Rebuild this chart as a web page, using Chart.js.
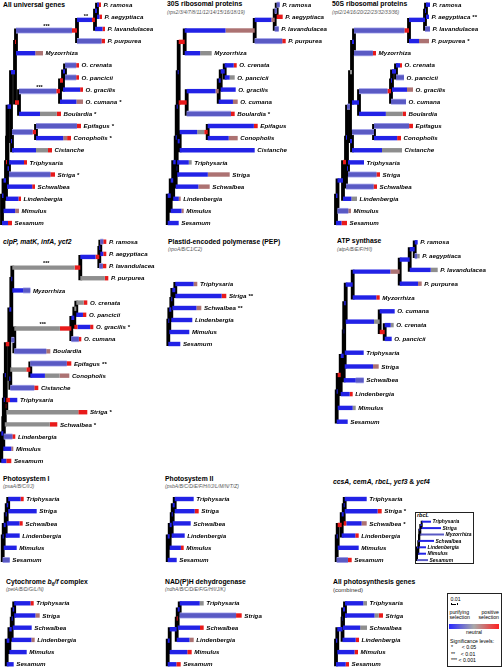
<!DOCTYPE html>
<html>
<head>
<meta charset="utf-8">
<script src="https://cdn.jsdelivr.net/npm/chart.js@4.4.0/dist/chart.umd.min.js"></script>
<style>
  body { margin:0; width:502px; height:669px; position:relative; background:#fff; overflow:hidden;
         font-family:"Liberation Sans", Arial, sans-serif; }
  canvas { position:absolute; }
  .t { position:absolute; font-weight:bold; font-size:6.8px; line-height:1; white-space:nowrap; color:#000; }
  .s { position:absolute; font-style:italic; font-size:5px; line-height:1; white-space:nowrap; color:#555; }
  .l { position:absolute; font-size:5.2px; line-height:1; white-space:nowrap; color:#000; }
</style>
</head>
<body>
<div class="t" style="left:3px;top:1.6px">All universal genes</div>
<div class="t" style="left:167px;top:0.6px">30S ribosomal proteins</div>
<div class="s" style="left:167px;top:9.8px">(rps2/3/4/7/8/11/12/14/15/16/18/19)</div>
<div class="t" style="left:332px;top:0.6px">50S ribosomal proteins</div>
<div class="s" style="left:332px;top:9.5px">(rpl2/14/16/20/22/23/32/33/36)</div>
<div class="t" style="left:3px;top:238.9px;font-style:italic">clpP, matK, infA, ycf2</div>
<div class="t" style="left:168px;top:238.9px">Plastid-encoded polymerase (PEP)</div>
<div class="s" style="left:168px;top:246.5px">(rpoA/B/C1/C2)</div>
<div class="t" style="left:337px;top:238.3px">ATP synthase</div>
<div class="s" style="left:337px;top:246.5px">(atpA/B/E/F/H/I)</div>
<div class="t" style="left:3px;top:475.9px">Photosystem I</div>
<div class="s" style="left:3px;top:483.5px">(psaA/B/C/I/J)</div>
<div class="t" style="left:165px;top:475.9px">Photosystem II</div>
<div class="s" style="left:165px;top:483.5px">(psbA/B/C/D/E/F/H/I/J/L/M/N/T/Z)</div>
<div class="t" style="left:333px;top:478.9px"><i>ccsA, cemA, rbcL, ycf3</i> &amp; <i>ycf4</i></div>
<div class="t" style="left:6px;top:578.9px">Cytochrome <i>b</i><sub style="font-size:4.6px">6</sub><i>/f</i> complex</div>
<div class="s" style="left:6px;top:586.5px">(petA/B/D/G/L/N)</div>
<div class="t" style="left:165px;top:578.6px">NAD(P)H dehydrogenase</div>
<div class="s" style="left:165px;top:586.5px">(ndhA/B/C/D/E/F/G/H/I/J/K)</div>
<div class="t" style="left:333px;top:578.6px">All photosynthesis genes</div>
<div class="l" style="left:333px;top:586.7px;font-size:6px;color:#333">(combined)</div>

<div style="position:absolute;left:415px;top:512px;width:57px;height:50px;border:1px solid #222"></div>
<div class="t" style="left:417px;top:513.3px;font-size:5.4px;font-style:italic">rbcL</div>

<div style="position:absolute;left:447px;top:593px;width:53px;height:72px;border:1px solid #222"></div>
<div class="l" style="left:450.5px;top:597.4px">0.01</div>
<div style="position:absolute;left:450.5px;top:602.5px;width:5px;height:2px;border-left:1px solid #000;border-right:1px solid #000"></div>
<div style="position:absolute;left:451px;top:603.5px;width:5px;height:1px;background:#000"></div>
<div class="l" style="left:449.5px;top:610.4px">purifying</div>
<div class="l" style="left:449.5px;top:615px">selection</div>
<div class="l" style="left:470px;top:610.4px;width:29px;text-align:right">positive</div>
<div class="l" style="left:470px;top:615px;width:29px;text-align:right">selection</div>
<div style="position:absolute;left:449px;top:624px;width:50px;height:4.5px;background:linear-gradient(to right,#2a2aff,#a9a9a9 50%,#ff2020)"></div>
<div class="l" style="left:449px;top:629.6px;width:50px;text-align:center">neutral</div>
<div class="l" style="left:450px;top:639.4px">Significance levels:</div>
<div class="l" style="left:451px;top:645px">*&nbsp;&nbsp;&nbsp;&nbsp;&nbsp;&nbsp;&lt; 0.05</div>
<div class="l" style="left:451px;top:651.5px">**&nbsp;&nbsp;&nbsp;&nbsp;&lt; 0.01</div>
<div class="l" style="left:451px;top:657.8px">*** &lt; 0.001</div>

<script>
// ---- tree topologies (leaves listed top to bottom, then inner nodes) ----
const bigLeaves = ['P. ramosa','P. aegyptiaca','P. lavandulacea','P. purpurea','Myzorrhiza',
  'O. crenata','O. pancicii','O. gracilis','O. cumana','Boulardia','Epifagus','Conopholis',
  'Cistanche','Triphysaria','Striga','Schwalbea','Lindenbergia','Mimulus','Sesamum'];
const bigInner = ['A','B','C','D','E','F','G','H','I','J','K','L','S','M','O','P','Q','R'];
const bigParent = ['A','A','B','C','D','E','E','F','G','H','J','J','K','S','S','O','P','Q','R',
  'B','C','D','I','F','G','H','I','L','K','L','M','M','O','P','Q','R',null];

const atpLeaves = ['P. ramosa','P. aegyptiaca','P. lavandulacea','P. purpurea','Myzorrhiza',
  'O. cumana','O. crenata','O. pancicii','Triphysaria','Striga','Schwalbea','Lindenbergia','Mimulus','Sesamum'];
const atpInner = ['A','B','C','D','E','G','H','S','M','O','P','Q','R'];
const atpParent = ['A','A','B','C','D','G','E','E','S','S','O','P','Q','R',
  'B','C','D','H','G','H','M','M','O','P','Q','R',null];

const smallLeaves = ['Triphysaria','Striga','Schwalbea','Lindenbergia','Mimulus','Sesamum'];
const smallInner = ['S','U','V','W','R'];
const smallParent = ['S','S','U','V','W','R','U','V','W','R',null];

const rbcLeaves = ['Triphysaria','Striga','Myzorrhiza','Schwalbea','Lindenbergia','Mimulus','Sesamum'];
const rbcInner = ['S','M','O','P','Q','R'];
const rbcParent = ['S','S','M','O','P','Q','R','M','O','P','Q','R',null];

// ---- root-to-node distances (6 units = 0.01 substitutions/site) ----
// colour strings: one letter per equal share of the branch, from parent to child
// B purifying, P weak purifying, G neutral, M weak positive, R positive
const univDepth = [99,100,103,103,41,77,77,81,81,59,79,69,50,25,53,33,19,17,10,
  95,93,75,14,63,61,58,17,13,34,10,9,7,5.5,5,4,1.5,0];
const univColor = ['BR','BR','BBBR','PPPPPPPR','BBBBBMM','PPPPR','PPPPR','BBBBBBR','BBBBBMM','BBBBBGGGGR',
  'PPPPPPPPPPR','BBBBBBBMR','BBBBBBGGGR','BBBBBR','PPPPPPPPPR','BBBBBBBBBR','BBBBBR','BBBBBBMM','BBBRR',
  'B','BBBBBR','PPPPPPPPPPPR','R','B','R','PPPPPPPPPPR','R','B','PPPPPPR','B','B','B','B','R','B','B',''];
const univSig = ['','','','','','','','','*','*','*','*','','','*','','','',''];
const univMarkAt = ['C','B','G'];
const univMarkText = ['***','**','***'];

const rps30Depth = [112,115,111,118,44,69,67,68,70,67,90,70,87,24,62,42,13,16,11,
  109,107,87,17,57,53,51,19,11,40,12,10,9.5,9,8,5.5,3,0];
const rps30Color = ['PP','RR','PP','PPPPPPPPR','BBBBGGG','BBBR','BBGG','BBBBB','BBBM','PPPPPPPPPPPPR',
  'BBBBBBBBBBBBR','BBBBBBBMMM','BBBBBBBBBB','BBBBG','BBBBBBBMMMMM','BBBBBBMMM','BBBM','BBBBBM','BBBB',
  'P','BBBBBM','BBBBBBBMMMMM','R','B','B','BBBBBBBBBM','R','B','BBBBBGGR','B','B','B','B','B','B','B',''];
const rps30Sig = ['','','','','','','','','','*','','','','','','','','',''];

const rpl50Depth = [94,93,94,93,40,66,68,77,70,70,77,65,66,28,44,41,21,15,11,
  90,89,73,18,60,56,55,23,16,38,16,14,12,11,10,7,1.5,0];
const rpl50Color = ['BB','BB','PP','BBBMMM','PPPPPPR','BBR','PPPP','BBBBBMM','PPPPP','BBBBBBBBGGGGGR',
  'PPPPPPPPPR','BBBBBBR','BBBBBBGGGG','BBBBB','PPPPPPPPR','PPPPPPPPR','BBBGG','PPPPM','BBRR',
  'B','BBBB','PPPPPPPPPPPR','B','B','B','PPPPPPPPR','B','G','PPPPP','B','P','B','B','R','B','B',''];
const rpl50Sig = ['','**','','*','','','','','','','','','','','','','','',''];

const clpDepth = [105,105,105,107,29,86,85,92,80,49,70,68,37,16,86,56,14,12,10,
  99,98,79,11,75,73,70,13,10,29,9,8,5,4.5,3.5,2.5,2,0];
const clpColor = ['PR','BR','PR','GGGGGGGR','BBBPP','GGR','BBR','RBBBBR','PPPR','PPPPPPPPM',
  'PPPPPPPPR','BBBGGGMM','PPPPPPR','RBB','GGGGGGGGR','GGGGGGR','PPPR','BBBBM','BBRR',
  'B','BBBBR','GGGGGGGGGGGR','B','G','B','GGGGGGGGRR','P','B','GGGGR','B','R','R','B','B','B','B',''];
const clpSig = ['','','','','','','','*','','','**','','','','*','*','','',''];
const clpMarkAt = ['C','G'];
const clpMarkText = ['***','***'];

const atpDepth = [81,83,101,85,43,58,57,55,27,42,27,16,19,11,
  78,73,63,16,48,43,9,8,7.5,7,4,1,0];
const atpColor = ['B','PG','BBBBBBGG','BBBBBM','BBBBBBBR','BBBB','BBG','BB','BBBB','BBBBBM','BBBPP','BBBR','BBBBBG','BB',
  'B','B','BBBBBBBBMM','B','R','BBBBBG','B','B','B','B','R','B',''];
const atpSig = ['','','','','','','','','','','','','',''];

const pepDepth = [29,58,33,24,21,12, 7,4,3,1,0];
const pepColor = ['BBBBBM','BBBBBBBBBBR','BBBBBM','BBBB','BBBB','BBBB','B','B','B','B',''];
const pepSig = ['','**','**','','',''];

const psaDepth = [21,34,20,17,14,7, 5.5,4,3,1,0];
const psaColor = ['BBBBR','BBBBBB','BBBBR','BBBB','BBBB','PP','B','B','B','B',''];

const psbDepth = [26,31,23,17,16,9, 7,5,4,2,0];
const psbColor = ['BBBB','BBBBBR','BBBB','BBBB','BBBBR','BB','B','B','B','B',''];

const ccsDepth = [30,45,30,22,22,15, 8,7,5,1,0];
const ccsColor = ['BBBBB','BBBBBBBBR','RBBBBBBMM','BBBBR','BBBBB','PPPR','B','B','R','B',''];
const ccsSig = ['','*','*','','',''];

const rbcDepth = [14,24,27,17,9,9,11, 4.7,3.3,2.3,2,1.3,0];
const rbcColor = ['BBBB','BBBBB','PPPPP','BBBBB','BBB','BBB','PPP','B','B','B','B','B',''];

const petDepth = [27,33,25,28,20,7, 7.5,6,5,2.7,0];
const petColor = ['BBBBBR','BBBBBM','BBBB','BBBBBBM','BBBB','B','B','B','B','B',''];

const ndhDepth = [36,74,36,26,24,13, 12,10,9,2,0];
const ndhColor = ['BBBBBG','PPPPPPPPPPR','BBBBBBR','BBBM','BBBBR','BBR','B','R','B','B',''];

const photoDepth = [31,47,31,23,22,13, 9,7,6.5,1.3,0];
const photoColor = ['BBBBBG','BBBBBBBGR','BBBBBGG','BBBBR','BBBBBR','BBBR','B','B','B','B',''];

const none6 = ['','','','','',''];

const COLORS = { B:'rgb(34,34,230)', P:'rgb(90,90,196)', G:'rgb(142,142,142)', M:'rgb(172,114,114)', R:'rgb(232,26,26)' };
const HALO = 'rgb(172,172,238)';

// ---- panels: tree data + where each one sits on the page ----
const panels = [
  { leaves:bigLeaves, inner:bigInner, parent:bigParent, depth:univDepth, color:univColor, sig:univSig,
    markAt:univMarkAt, markText:univMarkText, rootX:2, firstY:4.7, step:12.13, right:165 },
  { leaves:bigLeaves, inner:bigInner, parent:bigParent, depth:rps30Depth, color:rps30Color, sig:rps30Sig,
    rootX:167.7, firstY:4.7, step:12.13, right:330 },
  { leaves:bigLeaves, inner:bigInner, parent:bigParent, depth:rpl50Depth, color:rpl50Color, sig:rpl50Sig,
    rootX:336, firstY:4.7, step:12.13, right:502 },
  { leaves:bigLeaves, inner:bigInner, parent:bigParent, depth:clpDepth, color:clpColor, sig:clpSig,
    markAt:clpMarkAt, markText:clpMarkText, rootX:1.3, firstY:241.7, step:12.18, right:165 },
  { leaves:smallLeaves, inner:smallInner, parent:smallParent, depth:pepDepth, color:pepColor, sig:pepSig,
    rootX:168.3, firstY:284, step:12, right:330 },
  { leaves:atpLeaves, inner:atpInner, parent:atpParent, depth:atpDepth, color:atpColor, sig:atpSig,
    rootX:336.7, firstY:242.3, step:13.8, right:502 },
  { leaves:smallLeaves, inner:smallInner, parent:smallParent, depth:psaDepth, color:psaColor, sig:none6,
    rootX:2.7, firstY:499, step:12.2, right:165 },
  { leaves:smallLeaves, inner:smallInner, parent:smallParent, depth:psbDepth, color:psbColor, sig:none6,
    rootX:167.7, firstY:499, step:12.2, right:330 },
  { leaves:smallLeaves, inner:smallInner, parent:smallParent, depth:ccsDepth, color:ccsColor, sig:ccsSig,
    rootX:336.7, firstY:499, step:12.2, right:414 },
  { leaves:rbcLeaves, inner:rbcInner, parent:rbcParent, depth:rbcDepth, color:rbcColor, sig:['','','','','','',''],
    rootX:417, firstY:521.7, step:6.4, right:472, lw:2, font:5 },
  { leaves:smallLeaves, inner:smallInner, parent:smallParent, depth:petDepth, color:petColor, sig:none6,
    rootX:6.7, firstY:603.3, step:12.2, right:165 },
  { leaves:smallLeaves, inner:smallInner, parent:smallParent, depth:ndhDepth, color:ndhColor, sig:none6,
    rootX:167.7, firstY:603.3, step:12.2, right:330 },
  { leaves:smallLeaves, inner:smallInner, parent:smallParent, depth:photoDepth, color:photoColor, sig:none6,
    rootX:336, firstY:603.3, step:12.2, right:446 }
];

function seg(x0, y0, x1, y1, col, w, order, cap) {
  return { data:[{x:x0,y:y0},{x:x1,y:y1}], showLine:true, borderColor:col, borderWidth:w,
           pointRadius:0, order:order, borderCapStyle:cap, fill:false };
}

function drawPanel(p) {
  const nodes = p.leaves.concat(p.inner);
  const idx = {};
  nodes.forEach((n, i) => idx[n] = i);
  const kids = nodes.map(() => []);
  p.parent.forEach((par, i) => { if (par !== null) kids[idx[par]].push(i); });
  const ys = [];
  p.leaves.forEach((n, i) => ys[i] = i);
  function yOf(i) {
    if (ys[i] === undefined) {
      const c = kids[i].map(yOf);
      ys[i] = (Math.min(...c) + Math.max(...c)) / 2;
    }
    return ys[i];
  }
  nodes.forEach((n, i) => yOf(i));

  const lw = p.lw || 4.4;
  const vw = p.lw || 3.8;
  const datasets = [];
  nodes.forEach((n, i) => {
    if (kids[i].length) {
      const c = kids[i].map(k => ys[k]);
      datasets.push(seg(p.depth[i], Math.min(...c), p.depth[i], Math.max(...c), '#000', vw, 3, 'square'));
    }
    const par = p.parent[i];
    if (par === null) return;
    const x0 = p.depth[idx[par]], x1 = p.depth[i], s = p.color[i];
    let start = 0;
    for (let k = 1; k <= s.length; k++) {
      if (k === s.length || s[k] !== s[start]) {
        const a = x0 + (x1 - x0) * start / s.length, b = x0 + (x1 - x0) * k / s.length;
        if (s[start] === 'P' && !p.lw) datasets.push(seg(a, ys[i], b, ys[i], HALO, lw + 1.6, 2, 'butt'));
        datasets.push(seg(a, ys[i], b, ys[i], COLORS[s[start]], lw, 1, 'butt'));
        start = k;
      }
    }
  });

  const n = p.leaves.length;
  const left = Math.floor(p.rootX - 5);
  const top = Math.max(0, Math.floor(p.firstY - p.step * 0.7));
  const w = p.right - left;
  const h = Math.ceil(p.firstY + (n - 1) * p.step + p.step * 0.7) - top;
  const canvas = document.createElement('canvas');
  canvas.width = w; canvas.height = h;
  canvas.style.left = left + 'px'; canvas.style.top = top + 'px';
  document.body.appendChild(canvas);

  const yMin = (top - p.firstY) / p.step;
  const fontSize = p.font || 6.2;

  const labels = {
    id: 'leafLabels',
    afterDatasetsDraw(chart) {
      const ctx = chart.ctx, xs = chart.scales.x, yS = chart.scales.y;
      ctx.save();
      ctx.fillStyle = '#000';
      ctx.textBaseline = 'middle';
      ctx.font = 'italic bold ' + fontSize + 'px "Liberation Sans", Arial, sans-serif';
      p.leaves.forEach((name, i) => {
        const txt = name + (p.sig[i] ? ' ' + p.sig[i] : '');
        ctx.fillText(txt, xs.getPixelForValue(p.depth[i]) + (p.lw ? 1.5 : 2.6), yS.getPixelForValue(i) + 0.4);
      });
      if (p.markAt) {
        ctx.font = 'bold 5.5px "Liberation Sans", Arial, sans-serif';
        ctx.textAlign = 'center';
        p.markAt.forEach((m, k) => {
          const i = idx[m];
          const mid = (p.depth[i] + p.depth[idx[p.parent[i]]]) / 2;
          ctx.fillText(p.markText[k], xs.getPixelForValue(mid), yS.getPixelForValue(ys[i]) - 3.8);
        });
      }
      ctx.restore();
    }
  };

  new Chart(canvas, {
    type: 'scatter',
    data: { datasets: datasets },
    options: {
      responsive: false,
      animation: false,
      devicePixelRatio: 1,
      events: [],
      layout: { padding: 0 },
      plugins: { legend: { display: false }, tooltip: { enabled: false } },
      scales: {
        x: { type: 'linear', display: false, min: left - p.rootX, max: left - p.rootX + w },
        y: { type: 'linear', display: false, reverse: true, min: yMin, max: yMin + h / p.step }
      }
    },
    plugins: [labels]
  });
}

panels.forEach(drawPanel);
</script>
</body>
</html>
